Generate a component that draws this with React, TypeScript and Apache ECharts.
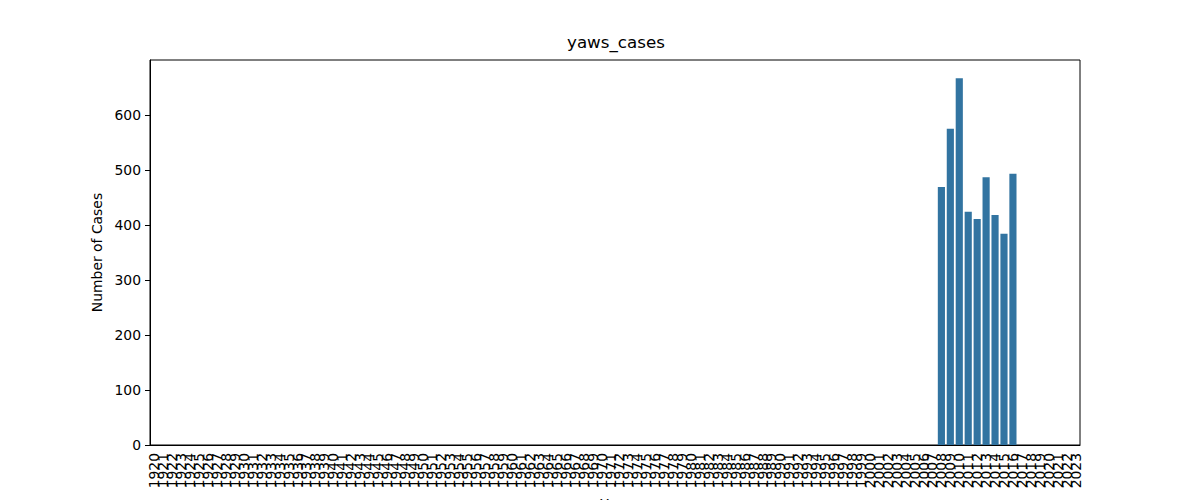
import React, { useEffect, useRef } from "react";
import * as echarts from "echarts";

const years: string[] = [];
for (let y = 1920; y <= 2023; y++) years.push(String(y));

const caseYears = ["2008", "2009", "2010", "2011", "2012", "2013", "2014", "2015", "2016"];
const caseValues = [469, 575, 667, 424, 411, 487, 418, 384, 493];

const yTicks = [0, 100, 200, 300, 400, 500, 600];

export default function App() {
  const ref = useRef<HTMLDivElement>(null);
  useEffect(() => {
    document.body.style.margin = "0";
    if (!ref.current) return;
    const chart = echarts.init(ref.current, undefined, { renderer: "svg" });
    const lookup: Record<string, number> = {};
    caseYears.forEach((y, i) => (lookup[y] = caseValues[i]));
    const data = years.map((y) => (y in lookup ? lookup[y] : null));
    const font = "DejaVu Sans";
    chart.setOption({
      animation: false,
      backgroundColor: "#ffffff",
      title: {
        text: "yaws_cases",
        left: 567,
        top: 33,
        padding: 0,
        textStyle: { fontFamily: font, fontSize: 16.7, fontWeight: "normal", color: "#000" },
      },
      grid: {
        left: 150,
        right: 120,
        top: 60,
        bottom: 55,
        show: true,
        borderColor: "#000",
        borderWidth: 1,
        containLabel: false,
        outerBoundsMode: "none",
      },
      xAxis: {
        type: "category",
        data: years,
        name: "Year",
        nameLocation: "middle",
        nameGap: 52,
        nameTextStyle: { fontFamily: font, fontSize: 13.9, color: "#000", verticalAlign: "top" },
        axisLine: { lineStyle: { color: "#000", width: 1 } },
        axisTick: { alignWithLabel: true, length: 5, lineStyle: { color: "#000" } },
        axisLabel: {
          interval: 0,
          rotate: 90,
          margin: 8,
          fontFamily: font,
          fontSize: 13.9,
          color: "#000",
        },
        splitLine: { show: false },
      },
      yAxis: {
        type: "value",
        min: 0,
        max: 700,
        interval: 100,
        name: "Number of Cases",
        nameLocation: "middle",
        nameGap: 40,
        nameTextStyle: { fontFamily: font, fontSize: 13.9, color: "#000" },
        axisLine: { show: true, lineStyle: { color: "#000", width: 1 } },
        axisTick: { show: true, length: 5, lineStyle: { color: "#000" } },
        axisLabel: {
          margin: 9,
          fontFamily: font,
          fontSize: 13.9,
          color: "#000",
          showMaxLabel: false,
          formatter: (v: number) => (yTicks.includes(v) ? String(v) : ""),
        },
        splitLine: { show: false },
      },
      series: [
        {
          type: "bar",
          data,
          barCategoryGap: "20%",
          itemStyle: { color: "#3274a1" },
        },
      ],
    });
    return () => chart.dispose();
  }, []);
  return <div ref={ref} style={{ width: 1200, height: 500 }} />;
}
